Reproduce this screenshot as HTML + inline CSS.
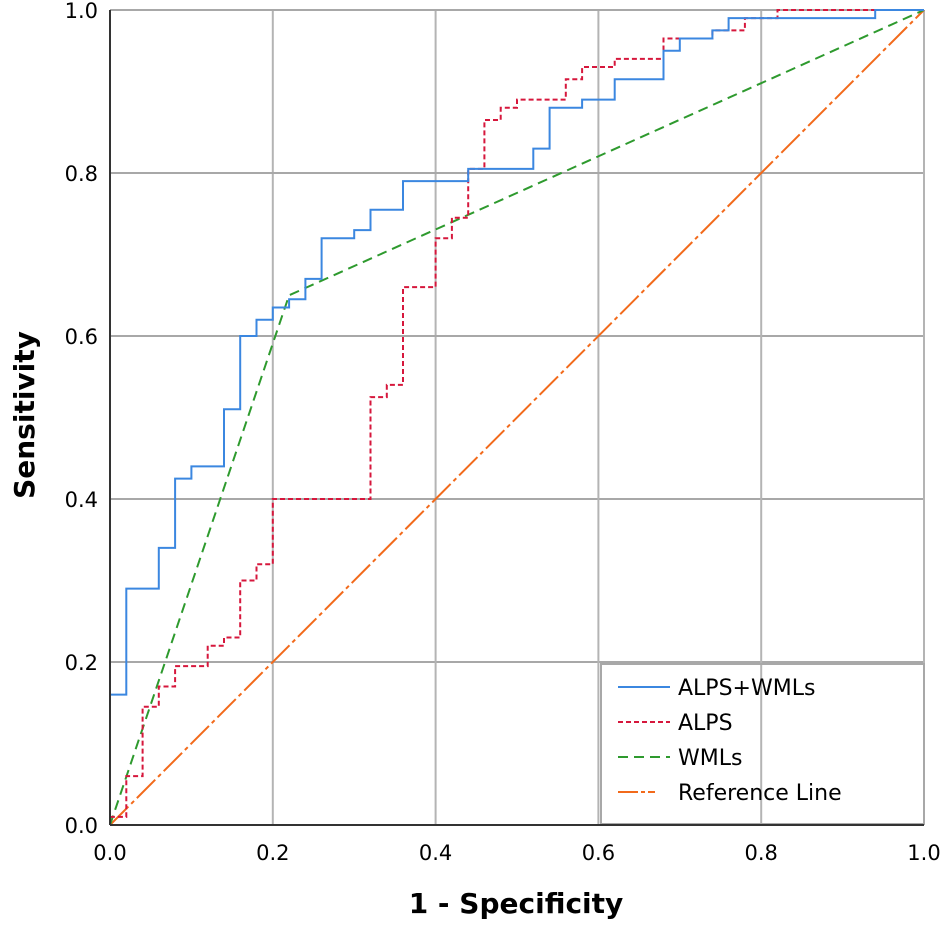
<!DOCTYPE html>
<html><head><meta charset="utf-8"><style>
body{margin:0;background:#fff}
svg text{font-family:"DejaVu Sans","Liberation Sans",sans-serif}
</style></head><body>
<svg id="chart" width="945" height="930" viewBox="0 0 945 930" xmlns="http://www.w3.org/2000/svg">
<g id="grid"></g>
<rect x="601" y="664" width="323" height="160" fill="none" stroke="#a8a8a8" stroke-width="2"/>
<g id="series"></g>
<g id="axes"></g>
<text x="516" y="913" font-size="28" font-weight="bold" text-anchor="middle">1 - Specificity</text>
<text x="0" y="0" font-size="28" font-weight="bold" text-anchor="middle" transform="translate(34,415) rotate(-90)">Sensitivity</text>
<g>
<line x1="618" y1="687" x2="670" y2="687" stroke="#3b87e0" stroke-width="2"/>
<text x="678" y="695" font-size="22">ALPS+WMLs</text>
<line x1="618" y1="722" x2="670" y2="722" stroke="#d6173c" stroke-width="2" stroke-dasharray="5,3"/>
<text x="678" y="730" font-size="22">ALPS</text>
<line x1="618" y1="757" x2="670" y2="757" stroke="#2e9a2e" stroke-width="2" stroke-dasharray="10,6"/>
<text x="678" y="765" font-size="22">WMLs</text>
<line x1="618" y1="792" x2="655" y2="792" stroke="#f26a1b" stroke-width="2" stroke-dasharray="20,3,4,3"/>
<text x="678" y="800" font-size="22">Reference Line</text>
</g>
</svg>
<script>
const ticks=[0,0.2,0.4,0.6,0.8,1.0];
const tickLabels=["0.0","0.2","0.4","0.6","0.8","1.0"];
const comboFpr=[0,0,0.02,0.02,0.06,0.06,0.08,0.08,0.10,0.10,0.14,0.14,0.16,0.16,0.18,0.18,0.20,0.20,0.22,0.22,0.24,0.24,0.26,0.26,0.30,0.30,0.32,0.32,0.36,0.36,0.44,0.44,0.52,0.52,0.54,0.54,0.58,0.58,0.62,0.62,0.68,0.68,0.70,0.70,0.74,0.74,0.76,0.76,0.94,0.94,1.0];
const comboTpr=[0,0.16,0.16,0.29,0.29,0.34,0.34,0.425,0.425,0.44,0.44,0.51,0.51,0.60,0.60,0.62,0.62,0.635,0.635,0.645,0.645,0.67,0.67,0.72,0.72,0.73,0.73,0.755,0.755,0.79,0.79,0.805,0.805,0.83,0.83,0.88,0.88,0.89,0.89,0.915,0.915,0.95,0.95,0.965,0.965,0.975,0.975,0.99,0.99,1.0,1.0];
const alpsFpr=[0,0,0.02,0.02,0.04,0.04,0.06,0.06,0.08,0.08,0.12,0.12,0.14,0.14,0.16,0.16,0.18,0.18,0.20,0.20,0.32,0.32,0.34,0.34,0.36,0.36,0.40,0.40,0.42,0.42,0.44,0.44,0.46,0.46,0.48,0.48,0.50,0.50,0.56,0.56,0.58,0.58,0.62,0.62,0.68,0.68,0.74,0.74,0.78,0.78,0.82,0.82,1.0];
const alpsTpr=[0,0.01,0.01,0.06,0.06,0.145,0.145,0.17,0.17,0.195,0.195,0.22,0.22,0.23,0.23,0.30,0.30,0.32,0.32,0.40,0.40,0.525,0.525,0.54,0.54,0.66,0.66,0.72,0.72,0.745,0.745,0.805,0.805,0.865,0.865,0.88,0.88,0.89,0.89,0.915,0.915,0.93,0.93,0.94,0.94,0.965,0.965,0.975,0.975,0.99,0.99,1.0,1.0];
const wmlFpr=[0,0.22,1.0];
const wmlTpr=[0,0.65,1.0];
const refFpr=[0,1];
const refTpr=[0,1];
const X0=110,X1=924,Y0=825,Y1=10;
const sx=v=>X0+v*(X1-X0), sy=v=>Y0-v*(Y0-Y1);
const NS="http://www.w3.org/2000/svg";
function mk(tag,attrs,parent){const e=document.createElementNS(NS,tag);for(const k in attrs)e.setAttribute(k,attrs[k]);parent.appendChild(e);return e;}
const grid=document.getElementById('grid'),axes=document.getElementById('axes'),ser=document.getElementById('series');
ticks.forEach((t,i)=>{
 if(i>0){
  const gv=mk('line',{x1:sx(t),y1:Y0,x2:sx(t),y2:Y1,stroke:'#b4b4b4','stroke-width':2},grid);
  
  
  const gh=mk('line',{x1:X0,y1:sy(t),x2:X1,y2:sy(t),stroke:'#a8a8a8','stroke-width':2},grid);
  
  
 }
 const xl=mk('text',{x:sx(t),y:860,'font-size':21,'text-anchor':'middle'},axes);
 xl.textContent=tickLabels[i];
 
 
 const yl=mk('text',{x:X0-12,y:sy(t)+8,'font-size':21,'text-anchor':'end'},axes);
 yl.textContent=tickLabels[i];
 
 
});
const xa=mk('line',{x1:X0,y1:Y0,x2:X1,y2:Y0,stroke:'#333','stroke-width':2},axes);


const ya=mk('line',{x1:X0,y1:Y0,x2:X0,y2:Y1,stroke:'#333','stroke-width':2},axes);


function path(xs,ys,style,name){
 const d=xs.map((x,i)=>(i?'L':'M')+sx(x).toFixed(1)+','+sy(ys[i]).toFixed(1)).join(' ');
 const p=mk('path',Object.assign({d:d,fill:'none'},style),ser);
 
 
}
path(refFpr,refTpr,{stroke:'#f26a1b','stroke-width':2,'stroke-dasharray':'26,4,4,4'},'reference-line');
path(wmlFpr,wmlTpr,{stroke:'#2e9a2e','stroke-width':2,'stroke-dasharray':'10,6'},'wmls-curve');
path(alpsFpr,alpsTpr,{stroke:'#d6173c','stroke-width':2,'stroke-dasharray':'5,3'},'alps-curve');
path(comboFpr,comboTpr,{stroke:'#3b87e0','stroke-width':2},'alps-wmls-curve');
</script>
</body></html>
